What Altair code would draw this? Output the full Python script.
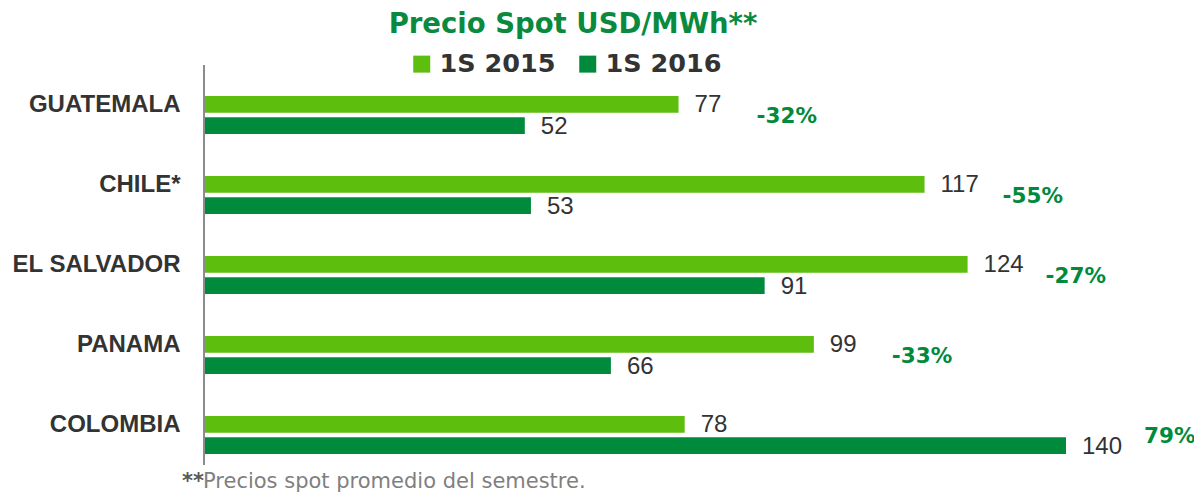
import altair as alt
import pandas as pd

# ---- data ----
countries = ["GUATEMALA", "CHILE*", "EL SALVADOR", "PANAMA", "COLOMBIA"]
series = ["1S 2015", "1S 2016"]
v2015 = [77, 117, 124, 99, 78]
v2016 = [52, 53, 91, 66, 140]
pct_change = ["-32%", "-55%", "-27%", "-33%", "79%"]
title_text = "Precio Spot USD/MWh**"
note_mark = "**"
note_text = "Precios spot promedio del semestre."

colors = ["#5DBE0E", "#008A3C"]

rows = []
for c, a, b in zip(countries, v2015, v2016):
    rows.append({"Country": c, "Year": series[0], "Value": a})
    rows.append({"Country": c, "Year": series[1], "Value": b})
bars_df = pd.DataFrame(rows)

pct_df = pd.DataFrame({
    "Country": countries,
    "Pct": pct_change,
    "MaxV": [max(a, b) for a, b in zip(v2015, v2016)],
})

W, H = 861, 400

y_enc = alt.Y("Country:N", sort=countries,
              scale=alt.Scale(paddingInner=0.5, paddingOuter=0.25),
              axis=alt.Axis(title=None, domain=False, ticks=False, grid=False,
                            labelFont="Liberation Sans", labelFontWeight="bold",
                            labelFontSize=24, labelColor="#333333",
                            labelPadding=25, labelOffset=-10))
x_scale = alt.Scale(domain=[0, 140], nice=False, zero=True)

base = alt.Chart(bars_df)

bars = base.mark_bar().encode(
    x=alt.X("Value:Q", scale=x_scale, axis=None),
    y=y_enc,
    yOffset=alt.YOffset("Year:N", sort=series,
                        scale=alt.Scale(paddingInner=0.22, paddingOuter=0.05)),
    color=alt.Color("Year:N", sort=series,
                    scale=alt.Scale(domain=series, range=colors),
                    legend=alt.Legend(title=None, orient="none", direction="horizontal",
                                      legendX=204, legendY=-24,
                                      symbolType="square", symbolSize=289,
                                      symbolStrokeWidth=0, symbolOpacity=1,
                                      labelFont="DejaVu Sans", labelFontWeight="bold",
                                      labelFontSize=25.5, labelColor="#333333",
                                      labelOffset=5, columnPadding=19, padding=0)),
)

values = base.mark_text(align="left", baseline="middle", dx=16, dy=1,
                        font="Liberation Sans", fontSize=24, color="#333333").encode(
    x=alt.X("Value:Q", scale=x_scale),
    y=alt.Y("Country:N", sort=countries),
    yOffset=alt.YOffset("Year:N", sort=series),
    text="Value:Q",
)

pcts = alt.Chart(pct_df).mark_text(align="left", baseline="middle", dx=78, dy=2,
                                   font="DejaVu Sans", fontWeight="bold",
                                   fontSize=21.5, color="#008A3C").encode(
    x=alt.X("MaxV:Q", scale=x_scale),
    y=alt.Y("Country:N", sort=countries),
    text="Pct:N",
)

axis_line = alt.Chart(pd.DataFrame({"k": [0]})).mark_rule(color="#8C8C8C", strokeWidth=2).encode(
    x=alt.value(-1), y=alt.value(-10), y2=alt.value(390))

title = alt.Chart(pd.DataFrame({"t": [title_text]})).mark_text(
    align="center", baseline="alphabetic", font="DejaVu Sans", fontWeight="bold",
    fontSize=27.5, color="#0A8A3E").encode(
    x=alt.value(368), y=alt.value(-42), text="t:N")

note1 = alt.Chart(pd.DataFrame({"t": [note_mark]})).mark_text(
    align="left", baseline="alphabetic", font="DejaVu Sans", fontWeight="bold",
    fontSize=21, color="#595959").encode(
    x=alt.value(-23), y=alt.value(413), text="t:N")

note2 = alt.Chart(pd.DataFrame({"t": [note_text]})).mark_text(
    align="left", baseline="alphabetic", font="DejaVu Sans",
    fontSize=21, color="#7F7F7F").encode(
    x=alt.value(-2), y=alt.value(413), text="t:N")

chart = alt.layer(axis_line, bars, values, pcts, title, note1, note2).properties(
    width=W, height=H,
    autosize=alt.AutoSizeParams(type="none"),
    padding={"left": 197, "top": 67, "right": 128, "bottom": 18},
).configure_view(strokeWidth=0)

chart.save("out.html", embed_options={"renderer": "svg", "actions": False})
